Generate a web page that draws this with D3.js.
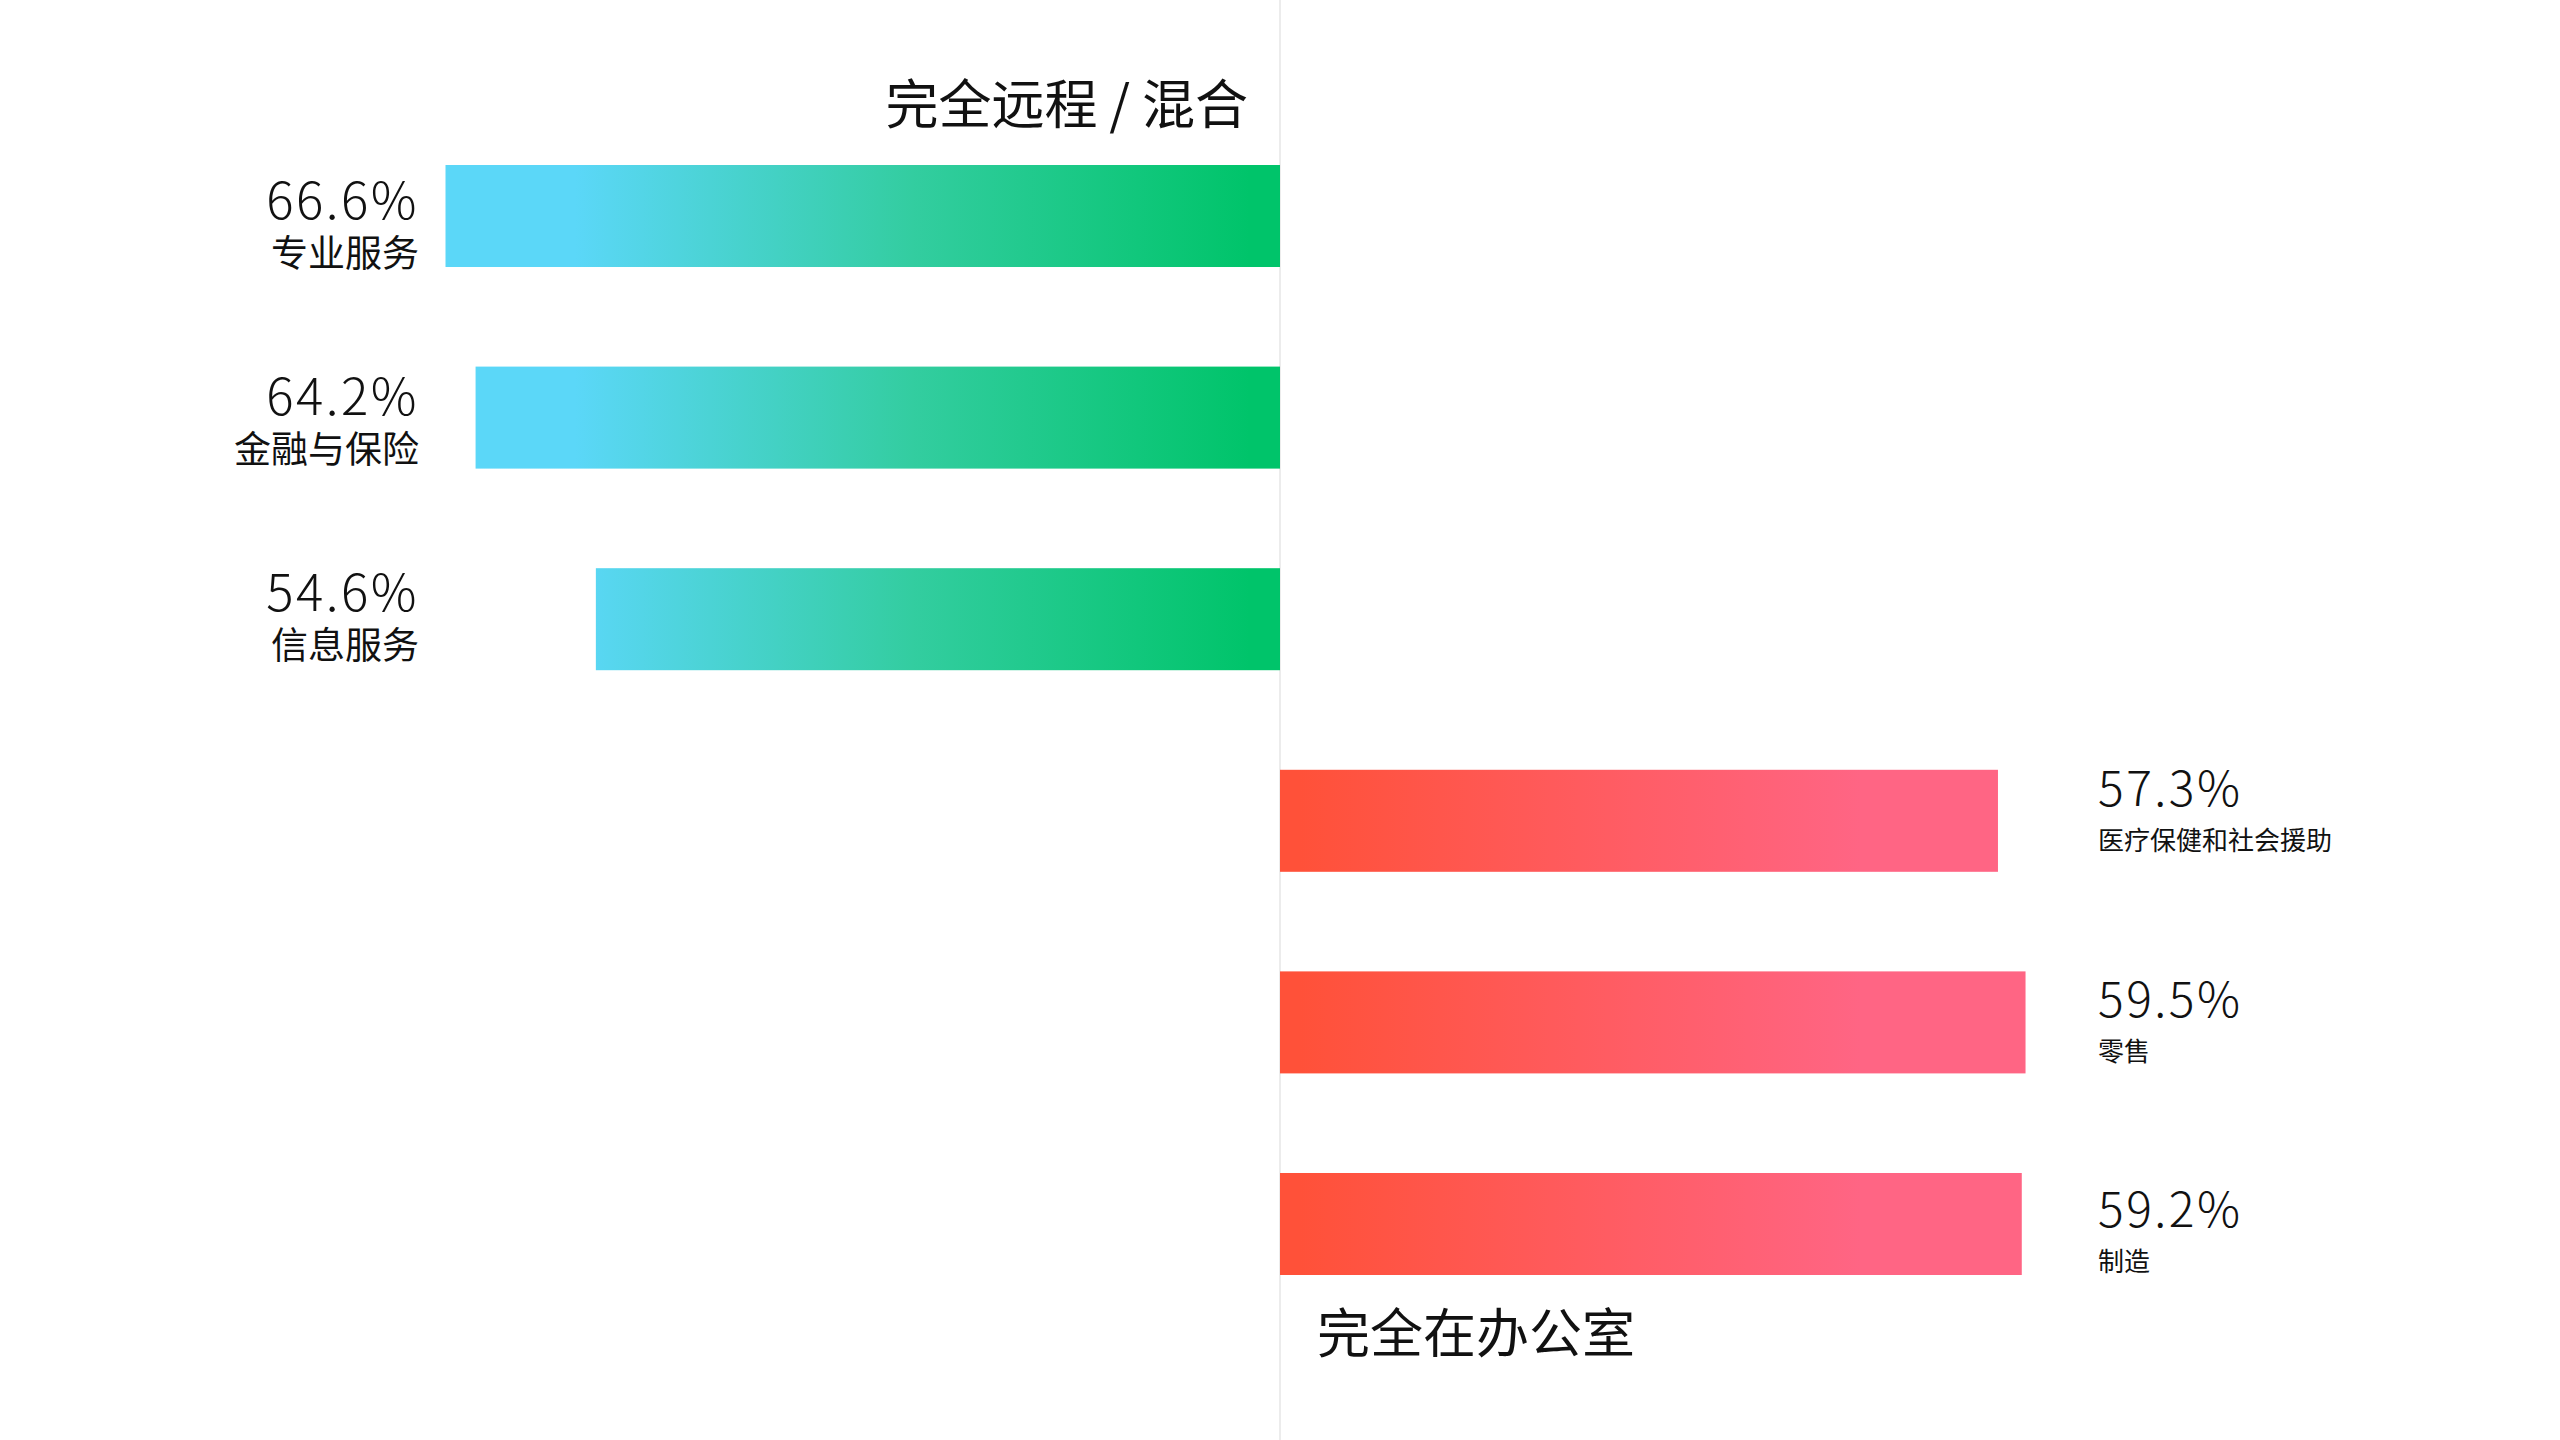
<!DOCTYPE html>
<html>
<head>
<meta charset="utf-8">
<script src="https://cdn.jsdelivr.net/npm/d3@7"></script>
<style>
  html, body { margin: 0; padding: 0; background: #fff; }
  svg { display: block; }
  text { font-family: "Noto Sans CJK SC", "Noto Sans", sans-serif; fill: #111; }
</style>
</head>
<body>
<svg id="chart" width="2560" height="1440"></svg>
<script>
const remoteCategories = ['专业服务', '金融与保险', '信息服务']
const remoteValues = [66.6, 64.2, 54.6]
const officeCategories = ['医疗保健和社会援助', '零售', '制造']
const officeValues = [57.3, 59.5, 59.2]
const sideTitles = ['完全远程 / 混合', '完全在办公室']

const W = 2560
const H = 1440
const centerX = 1280

const svg = d3.select('#chart')
const defs = svg.append('defs')

// gradients run in page space so shorter bars pick up the same colours
const gGreen = defs.append('linearGradient')
  .attr('id', 'grad-remote')
  .attr('gradientUnits', 'userSpaceOnUse')
  .attr('x1', 575).attr('x2', 1250).attr('y1', 0).attr('y2', 0)
gGreen.append('stop').attr('offset', 0).attr('stop-color', '#5bd7f8')
gGreen.append('stop').attr('offset', 0.5).attr('stop-color', '#33cda0')
gGreen.append('stop').attr('offset', 1).attr('stop-color', '#00c46a')

const gRed = defs.append('linearGradient')
  .attr('id', 'grad-office')
  .attr('gradientUnits', 'userSpaceOnUse')
  .attr('x1', 1300).attr('x2', 1860).attr('y1', 0).attr('y2', 0)
gRed.append('stop').attr('offset', 0).attr('stop-color', '#ff5139')
gRed.append('stop').attr('offset', 1).attr('stop-color', '#ff6584')

const remote = remoteCategories.map((c, i) => ({ cat: c, value: remoteValues[i] }))
const office = officeCategories.map((c, i) => ({ cat: c, value: officeValues[i] }))

const y = d3.scaleBand()
  .domain(remoteCategories.concat(officeCategories))
  .range([165, 1275])
  .paddingInner(0.494)
  .paddingOuter(0)

const x = d3.scaleLinear()
  .domain([0, 100])
  .range([0, 1253])

// the labels sit on their own, slightly different rhythm than the bars
const yLeftLab = d3.scalePoint().domain(remoteCategories).range([219, 611])
const yRightLab = d3.scalePoint().domain(officeCategories).range([806, 1227])

const fmt = (v) => d3.format('.1f')(v) + '%'

// center divider
svg.append('line')
  .attr('x1', centerX).attr('x2', centerX)
  .attr('y1', 0).attr('y2', H)
  .attr('stroke', '#e6e6e6')
  .attr('stroke-width', 1.5)

// left bars
svg.append('g').selectAll('rect')
  .data(remote)
  .join('rect')
  .attr('x', (d) => centerX - x(d.value))
  .attr('y', (d) => y(d.cat))
  .attr('width', (d) => x(d.value))
  .attr('height', y.bandwidth())
  .attr('fill', 'url(#grad-remote)')

// right bars
svg.append('g').selectAll('rect')
  .data(office)
  .join('rect')
  .attr('x', centerX)
  .attr('y', (d) => y(d.cat))
  .attr('width', (d) => x(d.value))
  .attr('height', y.bandwidth())
  .attr('fill', 'url(#grad-office)')

// left labels: value over category, one text block each
const leftLab = svg.append('g').selectAll('text')
  .data(remote)
  .join('text')
  .attr('text-anchor', 'end')
  .attr('x', 419)
  .attr('y', (d) => yLeftLab(d.cat))

leftLab.append('tspan')
  .attr('x', 419)
  .style('font-size', '51px')
  .style('font-weight', 300)
  .style('letter-spacing', '2.5px')
  .text((d) => fmt(d.value))

leftLab.append('tspan')
  .attr('x', 419)
  .attr('dy', 48)
  .style('font-size', '37px')
  .text((d) => d.cat)

// right labels
const rightLab = svg.append('g').selectAll('text')
  .data(office)
  .join('text')
  .attr('text-anchor', 'start')
  .attr('x', 2098)
  .attr('y', (d) => yRightLab(d.cat))

rightLab.append('tspan')
  .attr('x', 2098)
  .style('font-size', '48px')
  .style('font-weight', 300)
  .style('letter-spacing', '2.5px')
  .text((d) => fmt(d.value))

rightLab.append('tspan')
  .attr('x', 2098)
  .attr('dy', 44)
  .style('font-size', '26px')
  .text((d) => d.cat)

// side titles
svg.append('text')
  .attr('x', 1248)
  .attr('y', 124)
  .attr('text-anchor', 'end')
  .style('font-size', '53px')
  .text(sideTitles[0])

svg.append('text')
  .attr('x', 1317)
  .attr('y', 1353)
  .attr('text-anchor', 'start')
  .style('font-size', '53px')
  .text(sideTitles[1])
</script>
</body>
</html>
